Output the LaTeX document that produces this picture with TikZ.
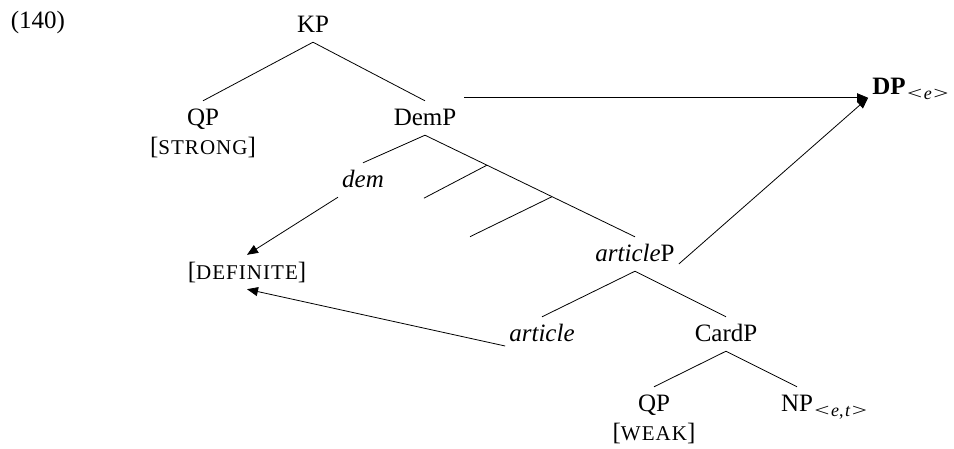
\documentclass[tikz,border=0pt]{standalone}
\usepackage{fontspec}
\setmainfont{Liberation Serif}
\usetikzlibrary{arrows.meta,calc}
\newcommand{\fakesc}[1]{[{\fontsize{21}{24}\selectfont\addfontfeature{LetterSpace=5}#1}]}
\newcommand{\wlt}{\scalebox{1.5}[1]{<}}
\newcommand{\wgt}{\scalebox{1.5}[1]{>}}
\newcommand{\lowsub}[1]{\raisebox{-5pt}{\fontsize{18}{20}\selectfont #1}}
\begin{document}
\begin{tikzpicture}[x=1pt,y=-1pt,
  every node/.style={font=\fontsize{25}{30}\selectfont},
  tn/.style={anchor=base, inner sep=4pt, text height=20pt, text depth=6pt},
  branch/.style={line width=0.8pt},
  arr/.style={line width=0.8pt, -{Triangle[length=11pt,width=9pt]}}]
\useasboundingbox (0,0) rectangle (954,448);
% nodes
\node[tn] (ex) at (38,28) {(140)};
\node[tn] (KP) at (313,32) {KP};
\node[tn] (QP) at (203,125) {QP};
\node[tn] (strong) at (203,154) {\fakesc{STRONG}};
\node[tn] (DemP) at (425,125) {DemP};
\node[tn] (dem) at (363,187) {\textit{dem}};
\node[tn] (def) at (247,279) {\fakesc{DEFINITE}};
\node[tn] (artP) at (635,261) {\textit{article}P};
\node[tn] (art) at (542,341) {\textit{article}};
\node[tn] (CardP) at (726,341) {CardP};
\node[tn] (QPb) at (654,411) {QP};
\node[tn] (weak) at (654,440) {\fakesc{WEAK}};
\node[tn] (NP) at (797,411) {NP};
\node[tn, anchor=base west, inner xsep=0pt] (NPsub) at ([xshift=-3pt]NP.base east) {\lowsub{\wlt\kern1.5pt\textit{e},\kern1.5pt\textit{t}\kern1.5pt\wgt}};
\node[tn] (DP) at (889,94) {\textbf{DP}};
\node[tn, anchor=base west, inner xsep=0pt] (DPsub) at ([xshift=-3pt]DP.base east) {\lowsub{\wlt\kern1.5pt\textit{e}\kern1.5pt\wgt}};
% tree branches
\draw[branch] (KP.south) -- (QP.north);
\draw[branch] (KP.south) -- (DemP.north);
\draw[branch] (DemP.south) -- (dem.north);
\draw[branch] (DemP.south) -- (artP.north);
\coordinate (b1) at ($(DemP.south)!0.295!(artP.north)$);
\coordinate (b2) at ($(DemP.south)!0.605!(artP.north)$);
\coordinate (s1) at ($(b1)+(-63,33)$);
\coordinate (s2) at ($(b2)+(-82,40)$);
\draw[branch] (b1) -- (s1);
\draw[branch] (b2) -- (s2);
\draw[branch] (artP.south) -- (art.north);
\draw[branch] (artP.south) -- (CardP.north);
\draw[branch] (CardP.south) -- (QPb.north);
\draw[branch] (CardP.south) -- (NP.north);
% arrows
\coordinate (demstart) at ([xshift=4pt,yshift=3pt]DemP.north east);
\coordinate (dptip) at (demstart -| DP.west);
\draw[arr] (demstart) -- (dptip);
\draw[arr] ([yshift=-10pt]artP.east) -- (dptip);
\draw[arr] (dem.south west) -- (def.north);
\draw[arr] ([yshift=-12pt]art.west) -- (def.south);
\end{tikzpicture}
\end{document}
